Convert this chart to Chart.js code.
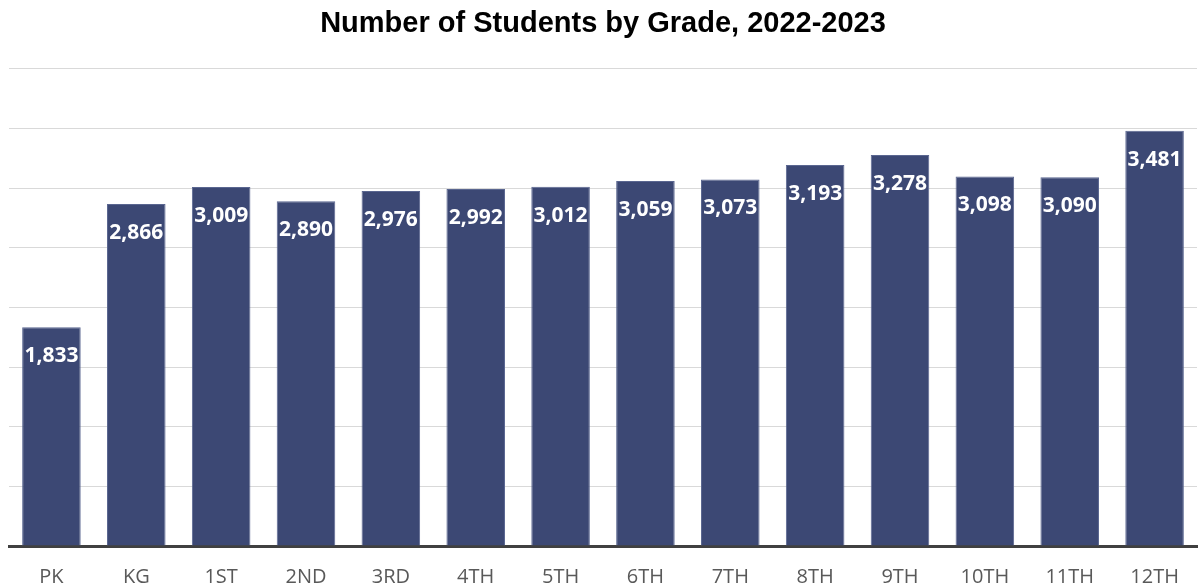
<!DOCTYPE html>
<html><head><meta charset="utf-8">
<script src="https://cdn.jsdelivr.net/npm/chart.js@4/dist/chart.umd.min.js"></script>
<style>html,body{margin:0;padding:0;background:#fff}#wrap{width:1203px;height:588px}</style>
</head><body><div id="wrap"><canvas id="c" width="1203" height="588"></canvas></div>
<script>
const categories = ["PK","KG","1ST","2ND","3RD","4TH","5TH","6TH","7TH","8TH","9TH","10TH","11TH","12TH"];
const students = [1833,2866,3009,2890,2976,2992,3012,3059,3073,3193,3278,3098,3090,3481];
const yMax = 4000, yStep = 500;

const labelPlugin = {
  id: 'barLabels',
  afterDatasetsDraw(chart) {
    const ctx = chart.ctx;
    const meta = chart.getDatasetMeta(0);
    ctx.save();
    ctx.fillStyle = '#ffffff';
    ctx.font = 'bold 21px "Open Sans", sans-serif';
    ctx.textAlign = 'center';
    ctx.textBaseline = 'middle';
    meta.data.forEach((bar, i) => {
      ctx.fillText(students[i].toLocaleString('en-US'), bar.x, bar.y + 29);
    });
    ctx.restore();
  }
};

new Chart(document.getElementById('c'), {
  type: 'bar',
  data: {
    labels: categories,
    datasets: [{
      data: students,
      backgroundColor: '#3c4874',
      borderColor: '#5a6690',
      borderWidth: 1,
      categoryPercentage: 1.0,
      barPercentage: 0.69
    }]
  },
  options: {
    responsive: false,
    animation: false,
    layout: { padding: { left: 9, right: 6, top: 0, bottom: -20 } },
    plugins: {
      legend: { display: false },
      tooltip: { enabled: false },
      title: {
        display: true,
        text: 'Number of Students by Grade, 2022-2023',
        color: '#000000',
        font: { family: '"Liberation Sans", Arial, sans-serif', size: 29, weight: 'bold' },
        padding: { top: 7, bottom: 27 }
      }
    },
    scales: {
      x: {
        grid: { display: false, drawTicks: false },
        border: { display: true, color: '#404040', width: 3 },
        ticks: { color: '#595959', font: { family: '"Open Sans", sans-serif', size: 20 }, padding: 19 }
      },
      y: {
        min: 0, max: yMax,
        ticks: { display: false, stepSize: yStep },
        grid: { color: '#d9d9d9', lineWidth: 1, drawTicks: false },
        border: { display: false }
      }
    }
  },
  plugins: [labelPlugin]
});
</script></body></html>
